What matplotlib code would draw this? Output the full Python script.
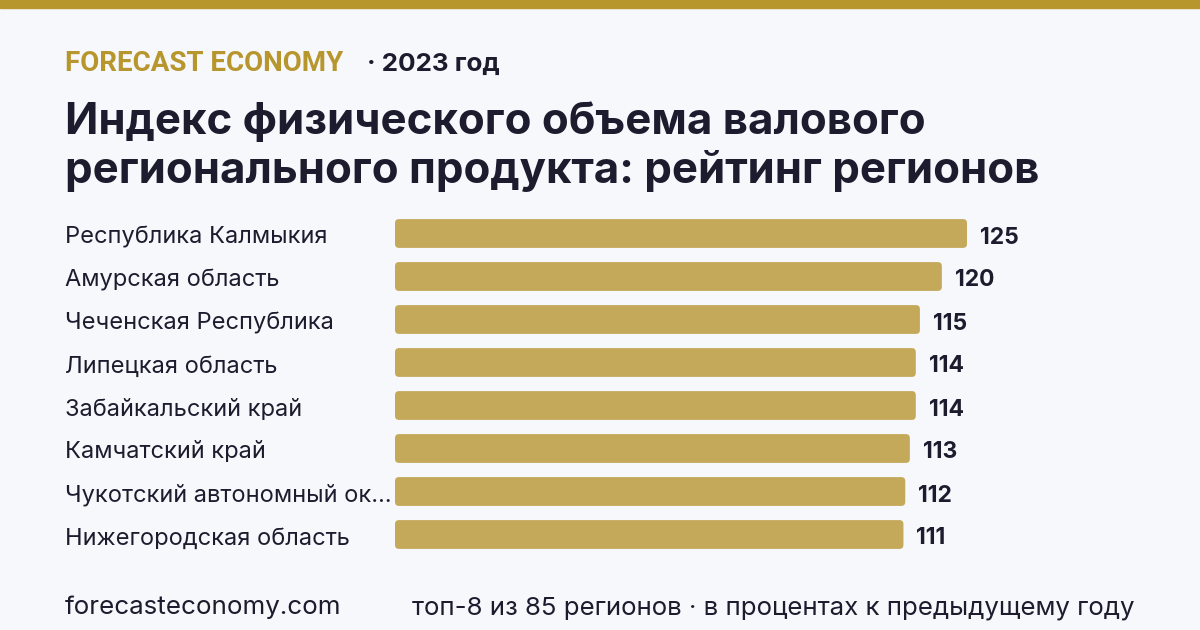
import matplotlib
matplotlib.use('Agg')
import matplotlib.pyplot as plt
import matplotlib.transforms as mtransforms
from matplotlib.patches import FancyBboxPatch

plt.rcParams['font.family'] = ['Inter', 'DejaVu Sans']

# данные
regions = ['Республика Калмыкия', 'Амурская область', 'Чеченская Республика',
           'Липецкая область', 'Забайкальский край', 'Камчатский край',
           'Чукотский автономный ок…', 'Нижегородская область']
values = [125.1, 119.6, 114.8, 113.9, 113.9, 112.6, 111.6, 111.2]

header = 'FORECAST ECONOMY'
year = '· 2023 год'
title = 'Индекс физического объема валового\nрегионального продукта: рейтинг регионов'
site = 'forecasteconomy.com'
note = 'топ-8 из 85 регионов · в процентах к предыдущему году'

BG = '#f7f8fc'
GOLD = '#b8962e'
BAR = '#c4a95b'
DARK = '#1c1c2e'

W, H = 1200, 630
fig = plt.figure(figsize=(12, 6.3), dpi=100, facecolor=BG)

# полоса сверху
fig.patches.append(plt.Rectangle((0, 1 - 8 / H), 1, 8 / H, transform=fig.transFigure,
                                 color=GOLD, zorder=0))

fig.text(65 / W, 1 - 71 / H, header, color=GOLD, fontsize=20, fontweight='bold',
         family=['Roboto', 'DejaVu Sans'], va='baseline')
fig.text(367 / W, 1 - 71 / H, year, color=DARK, fontsize=18.7, fontweight='bold', va='baseline')
fig.text(65 / W, 1 - 183 / H, title, color=DARK, fontsize=31.5, fontweight='bold',
         va='baseline', linespacing=1.2)
fig.text(65 / W, 1 - 614 / H, site, color=DARK, fontsize=18.7, va='baseline')
fig.text(1135 / W, 1 - 614 / H, note, color=DARK, fontsize=18.6, va='baseline', ha='right')

# оси под бары
left, right, top, bottom = 395, 967, 212, 556
ax = fig.add_axes([left / W, (H - bottom) / H, (right - left) / W, (bottom - top) / H])
ax.set_facecolor('none')
bh = 0.67
bars = ax.barh(range(len(regions)), values, height=bh, color='none')
ax.set_xlim(0, max(values))
ax.set_ylim(len(regions) - 0.5, -0.5)
ax.axis('off')

# скругленные углы
xpp = max(values) / (right - left)
ypp = len(regions) / (bottom - top)
for b in bars:
    ax.add_patch(FancyBboxPatch((b.get_x(), b.get_y()), b.get_width(), b.get_height(),
                                boxstyle='round,pad=0,rounding_size=%f' % (4 * xpp),
                                mutation_aspect=ypp / xpp, color=BAR, lw=0))

trans = mtransforms.blended_transform_factory(fig.transFigure, ax.transData)
for i, (r, v) in enumerate(zip(regions, values)):
    ax.annotate(r, (65 / W, i), xycoords=trans, xytext=(0, -4), textcoords='offset pixels',
                fontsize=17, color=DARK, va='center')
    ax.annotate('%.0f' % v, (v, i), xytext=(13, -4), textcoords='offset pixels',
                fontsize=16.5, fontweight='bold', color=DARK, va='center', ha='left')

fig.savefig('out.png', dpi=100, facecolor=BG)
